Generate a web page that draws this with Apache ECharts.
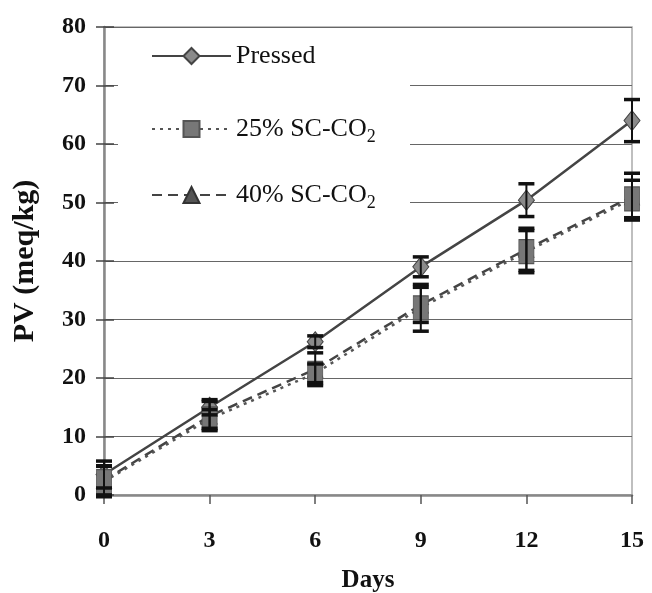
<!DOCTYPE html>
<html><head><meta charset="utf-8">
<script src="https://cdn.jsdelivr.net/npm/echarts@6/dist/echarts.min.js"></script>
<style>html,body{margin:0;padding:0;background:#fff}#c{width:652px;height:593px}</style>
</head><body><div id="c"></div>
<script>
var days = [0, 3, 6, 9, 12, 15];
var pressed = [3.5, 15, 26.2, 39, 50.4, 64];
var pressedErr = [2.3, 1.3, 1.0, 1.7, 2.8, 3.6];
var sc25 = [2.3, 13, 20.8, 32, 41.6, 50.6];
var sc25Err = [2.6, 1.6, 1.6, 4.0, 3.6, 3.2];
var sc40 = [2.5, 13.5, 21.5, 32.5, 42, 51];
var sc40Err = [2.5, 2.5, 2.8, 3.0, 3.6, 4.0];
var yTicks = [0, 10, 20, 30, 40, 50, 60, 70, 80];
var xTicks = [0, 3, 6, 9, 12, 15];
var names = ['Pressed', '25% SC-CO2', '40% SC-CO2'];

function pairs(ys){ return days.map(function(d,i){ return [d, ys[i]]; }); }
function errData(ys, es){ return days.map(function(d,i){ return [d, ys[i]-es[i], ys[i]+es[i]]; }); }

function errSeries(ys, es){
  return {
    type: 'custom', z: 5, silent: true,
    data: errData(ys, es),
    renderItem: function(params, api){
      var x = api.value(0);
      var lo = api.coord([x, api.value(1)]);
      var hi = api.coord([x, api.value(2)]);
      var w = 8;
      var st = {stroke: '#111', lineWidth: 2};
      var cap = {stroke: '#111', lineWidth: 3.5};
      return {type: 'group', children: [
        {type: 'line', shape: {x1: lo[0], y1: lo[1], x2: hi[0], y2: hi[1]}, style: st},
        {type: 'line', shape: {x1: lo[0]-w, y1: lo[1], x2: lo[0]+w, y2: lo[1]}, style: cap},
        {type: 'line', shape: {x1: hi[0]-w, y1: hi[1], x2: hi[0]+w, y2: hi[1]}, style: cap}
      ]};
    }
  };
}

var legendText = {
  fontFamily: 'Liberation Serif', fontSize: 26, color: '#111',
  rich: {
    n: {fontFamily: 'Liberation Serif', fontSize: 26, color: '#111'},
    s: {fontFamily: 'Liberation Serif', fontSize: 18, color: '#111', padding: [16, 0, 0, 0]}
  }
};
function fmt(name){
  if (name.slice(-3) === 'CO2') return '{n|' + name.slice(0, -1) + '}{s|2}';
  return '{n|' + name + '}';
}

var chart = echarts.init(document.getElementById('c'));
chart.setOption({
  animation: false,
  backgroundColor: '#fff',
  grid: {left: 104, right: 20, top: 27, bottom: 98, show: true, borderColor: '#aaa', borderWidth: 1.5,
    containLabel: false, outerBoundsMode: 'none'},
  graphic: [{type: 'rect', z: 1, shape: {x: 118, y: 30, width: 292, height: 186}, style: {fill: '#fff'}}],
  legend: [0,1,2].map(function(i){
    return {
      data: [names[i]], left: 146, top: [38, 111, 177][i], itemWidth: 79, itemHeight: 20,
      itemGap: 0, textStyle: legendText, formatter: fmt
    };
  }),
  xAxis: {
    type: 'value', min: 0, max: 15, interval: 3,
    name: 'Days', nameLocation: 'middle', nameGap: 73,
    nameTextStyle: {fontFamily: 'Liberation Serif', fontWeight: 'bold', fontSize: 25, color: '#111', letterSpacing: -1},
    axisLine: {show: true, lineStyle: {color: '#888', width: 2.5}},
    axisTick: {show: true, length: 9, lineStyle: {color: '#555', width: 1.5}},
    axisLabel: {margin: 34, fontFamily: 'Liberation Serif', fontWeight: 'bold', fontSize: 24, color: '#111',
      formatter: function(v){ return xTicks.indexOf(v) >= 0 ? String(v) : ''; }},
    splitLine: {show: false}
  },
  yAxis: [{
    type: 'value', min: 0, max: 80, interval: 10,
    name: 'PV (meq/kg)', nameLocation: 'middle', nameGap: 64, nameRotate: 90,
    nameTextStyle: {fontFamily: 'Liberation Serif', fontWeight: 'bold', fontSize: 30, color: '#111', letterSpacing: 3},
    axisLine: {show: true, lineStyle: {color: '#888', width: 2.5}},
    axisTick: {show: true, length: 8, lineStyle: {color: '#444', width: 1.5}},
    axisLabel: {margin: 18, fontFamily: 'Liberation Serif', fontWeight: 'bold', fontSize: 24, color: '#111',
      formatter: function(v){ return yTicks.indexOf(v) >= 0 ? String(v) : ''; }},
    splitLine: {show: true, lineStyle: {color: '#666', width: 1}}
  }, {
    type: 'value', min: 0, max: 80, interval: 10, position: 'left',
    axisLine: {show: false}, axisLabel: {show: false}, splitLine: {show: false},
    axisTick: {show: true, inside: true, length: 10, lineStyle: {color: '#444', width: 1.5}}
  }],
  series: [
    {name: names[0], type: 'line', z: 4, data: pairs(pressed), symbol: 'diamond', symbolSize: [16, 20],
      lineStyle: {color: '#444', width: 2.5, type: 'solid'},
      itemStyle: {color: '#8a8a8a', borderColor: '#444', borderWidth: 1}},
    {name: names[1], type: 'line', z: 4, data: pairs(sc25), symbol: 'rect', symbolSize: [15, 24],
      lineStyle: {color: '#555', width: 2.5, type: [3, 5]},
      itemStyle: {color: '#777', borderColor: '#555', borderWidth: 1}},
    {name: names[2], type: 'line', z: 3, data: pairs(sc40), symbol: 'triangle', symbolSize: [15, 16],
      lineStyle: {color: '#444', width: 2.5, type: [10, 6]},
      itemStyle: {color: '#555', borderColor: '#333', borderWidth: 1}},
    errSeries(pressed, pressedErr),
    errSeries(sc25, sc25Err),
    errSeries(sc40, sc40Err)
  ]
});
</script></body></html>
